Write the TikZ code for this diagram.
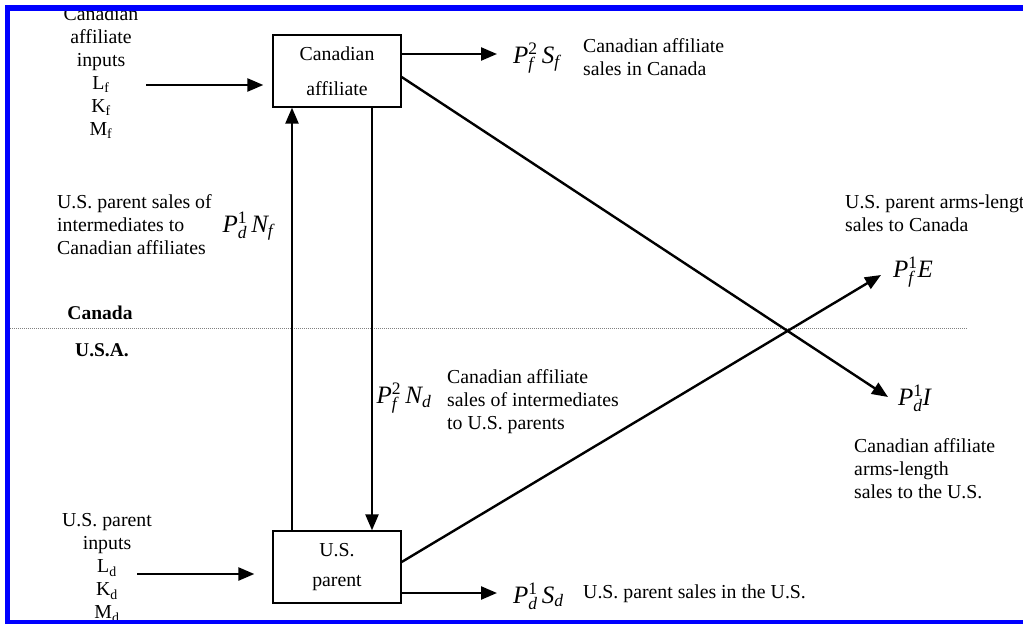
\documentclass[tikz,border=0pt]{standalone}
\usepackage{fontspec}
\setmainfont{Liberation Serif}
\usetikzlibrary{arrows.meta, positioning, calc}
\definecolor{fblue}{RGB}{0,0,255}
\newcommand{\itm}[1]{\mathit{#1}}
\newcommand{\rmn}[1]{\mathrm{#1}}

\begin{document}
\begin{tikzpicture}[x=1pt, y=-1pt,
  every node/.style={font=\fontsize{19.8}{23}\selectfont, inner sep=0pt},
  firm/.style={draw, line width=1.3pt, minimum width=128pt, minimum height=72pt, align=center},
  note/.style={align=left, anchor=west},
  inlist/.style={align=center},
  region/.style={font=\fontsize{19.5}{23}\selectfont\bfseries},
  flowlbl/.style={font=\fontsize{25}{28}\selectfont},
  arr/.style={-{Triangle[length=16pt, width=13pt]}, line width=2.4pt},
  border/.style={gray, line width=0.8pt, dash pattern=on 1pt off 1pt}
]
\useasboundingbox (0,0) rectangle (1023,624);

% firms
\node[firm] (caff)  at (337,71)  {Canadian\\[12pt]affiliate};
\node[firm] (uspar) at (337,567) {U.S.\\[7pt]parent};

% inputs
\node[inlist] (cin) at (101,73)  {Canadian\\affiliate\\inputs\\L\textsubscript{f}\\K\textsubscript{f}\\M\textsubscript{f}};
\node[inlist] (uin) at (107,568) {U.S. parent\\inputs\\L\textsubscript{d}\\K\textsubscript{d}\\M\textsubscript{d}};
\coordinate (cinA) at (146,85);
\coordinate (uinA) at (137,574);

% flows
\node[flowlbl, anchor=west] (psf) at (513,58)  {$\itm{P}_{\itm{f}}^{\rmn{2}}\,\itm{S}_{\itm{f}}$};
\node[flowlbl, anchor=west] (psd) at (513,596) {$\itm{P}_{\itm{d}}^{\rmn{1}}\,\itm{S}_{\itm{d}}$};
\node[flowlbl] (pdn) at (248,226) {$\itm{P}_{\itm{d}}^{\rmn{1}}\,\itm{N}_{\itm{f}}$};
\node[flowlbl] (pfn) at (404,398) {$\itm{P}_{\itm{f}}^{\rmn{2}}\,\itm{N}_{\itm{d}}$};
\node[flowlbl, anchor=west] (pfe) at (893,272) {$\itm{P}_{\itm{f}}^{\rmn{1}}\itm{E}$};
\node[flowlbl, anchor=west] (pdi) at (898,398) {$\itm{P}_{\itm{d}}^{\rmn{1}}\itm{I}$};

% notes
\node[note] (n1) at (57,225)  {U.S. parent sales of\\intermediates to\\Canadian affiliates};
\node[note] (n2) at (447,402) {Canadian affiliate\\sales of intermediates\\to U.S. parents};
\node[note] (n3) at (845,213) {U.S. parent arms-length\\sales to Canada};
\node[note] (n4) at (854,469) {Canadian affiliate\\arms-length\\sales to the U.S.};
\node[note] (n5) at (583,57)  {Canadian affiliate\\sales in Canada};
\node[note] (n6) at (583,594) {U.S. parent sales in the U.S.};

% border
\coordinate (bW) at (10,328);
\coordinate (bE) at (968,328);
\draw[border] (bW) -- (bE);
\node[region] (can) at (100,313) {Canada};
\node[region] (usa) at (102,350) {U.S.A.};

\draw[arr, shorten >=9pt]  (cinA) -- (cinA -| caff.west);
\draw[arr, shorten >=18pt] (uinA) -- (uinA -| uspar.west);
\draw[arr] ([xshift=-45pt]uspar.north) -- ([xshift=-45pt]caff.south);
\draw[arr] ([xshift=35pt]caff.south) -- ([xshift=35pt]uspar.north);
\draw[arr, shorten >=16pt] ([yshift=17pt]caff.east) -- ([yshift=17pt]caff.east -| psf.west);
\draw[arr, shorten >=16pt] ([yshift=-26pt]uspar.east) -- ([yshift=-26pt]uspar.east -| psd.west);
\draw[arr] ([yshift=-6pt]caff.east) -- ([xshift=-10pt, yshift=1pt]pdi.west);
\draw[arr] ([yshift=5pt]uspar.east) -- ([xshift=-12pt, yshift=-3pt]pfe.west);

% frame
\fill[fblue] (5,5) rectangle (1023,11);
\fill[fblue] (5,5) rectangle (10,624);
\fill[fblue] (5,620) rectangle (1023,624);
\end{tikzpicture}
\end{document}
